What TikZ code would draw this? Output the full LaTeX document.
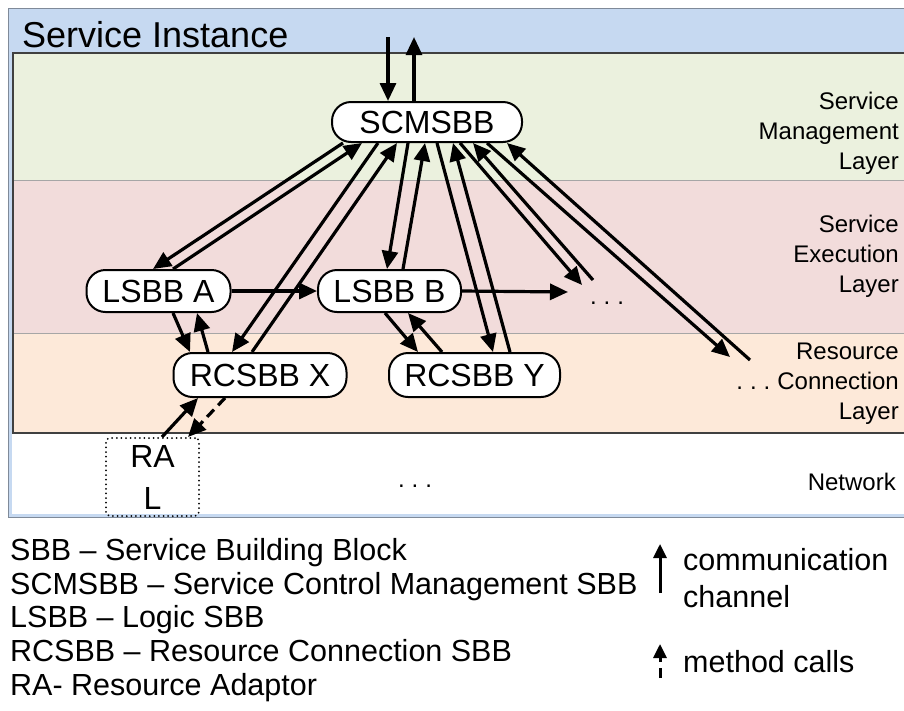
\documentclass[tikz,border=0pt]{standalone}
\usepackage{fontspec}
\setmainfont{Liberation Sans}
\usetikzlibrary{arrows.meta,calc}
\definecolor{bandblue}{HTML}{C6D9F1}
\definecolor{framegray}{HTML}{7F8A99}
\definecolor{smlgreen}{HTML}{EBF1DE}
\definecolor{selpink}{HTML}{F2DCDB}
\definecolor{rclorange}{HTML}{FDE9D9}
\definecolor{sepgray}{HTML}{A6A6A6}
\definecolor{innerframe}{HTML}{404040}
\tikzset{
  pill/.style={draw=black, line width=2pt, fill=white, rounded corners=19pt,
    inner sep=0pt, font=\fontsize{32}{38}\selectfont},
  conn/.style={line width=3.2pt, -{Triangle[length=18pt,width=16pt]}},
  layerlabel/.style={anchor=east, align=right, inner sep=0pt, font=\fontsize{24}{30}\selectfont},
  legendtext/.style={anchor=base west, inner sep=0pt, font=\fontsize{30.5}{34}\selectfont},
  legarrow/.style={line width=3pt, -{Triangle[length=14pt,width=13pt]}},
  dotstext/.style={inner sep=0pt, font=\fontsize{24}{30}\selectfont},
}
\begin{document}
\begin{tikzpicture}[x=1pt,y=-1pt]
\useasboundingbox (0,0) rectangle (904,710);
% frame and layers
\fill[white] (0,0) rectangle (904,710);
\draw[framegray, line width=1pt, fill=bandblue] (8,8) rectangle (910,517);
\fill[white] (12,433) rectangle (910,514);
\fill[smlgreen] (13,53) rectangle (910,180);
\fill[selpink] (13,180) rectangle (910,333);
\fill[rclorange] (13,333) rectangle (910,433);
\draw[sepgray, line width=1pt] (13,180) -- (910,180);
\draw[sepgray, line width=1pt] (13,333) -- (910,333);
\draw[innerframe, line width=1.6pt] (13,53) rectangle (910,433);
\node[anchor=base west, inner sep=0pt, font=\fontsize{36}{40}\selectfont] (title) at (22,47) {Service Instance};

% layer labels
\node[layerlabel] (sml) at (899,133) {Service\\Management\\Layer};
\node[layerlabel] (sel) at (899,256) {Service\\Execution\\Layer};
\node[layerlabel] (rcl) at (899,384) {Resource\\.\hspace{7pt}.\hspace{7pt}.\hspace{7pt}Connection\\Layer};
\node[layerlabel] (net) at (896,482) {Network};
\node[dotstext] (dotsE) at (607,303) {.\hspace{7pt}.\hspace{7pt}.};
\node[dotstext] (dotsN) at (415,486) {.\hspace{7pt}.\hspace{7pt}.};

% nodes
\node[pill, minimum width=190pt, minimum height=40pt] (scm) at (427,122) {SCMSBB};
\node[pill, minimum width=144pt, minimum height=42pt] (la) at (158.5,291) {LSBB A};
\node[pill, minimum width=143pt, minimum height=42pt] (lb) at (389.5,291) {LSBB B};
\node[pill, minimum width=173pt, minimum height=44pt] (rx) at (260,375) {RCSBB X};
\node[pill, minimum width=171pt, minimum height=44pt] (ry) at (474.5,375) {RCSBB Y};
\node[draw=black, line width=2pt, dash pattern=on 0pt off 4.6pt, line cap=round,
  rounded corners=4pt, minimum width=93pt,
  minimum height=78pt, inner sep=0pt, align=center, font=\fontsize{32}{42}\selectfont] (ra) at (152.5,477) {RA\\L};

% free ends
\coordinate (t1) at (388,37);
\coordinate (t2) at (414,37);
\coordinate (e1) at (582,285);
\coordinate (e2) at (593,280);
\coordinate (e3) at (568,292);
\coordinate (r1) at (730,357);
\coordinate (r2) at (750,360);

% top channel
\draw[conn] (t1) -- ([xshift=-39pt]scm.north);
\draw[conn] ([xshift=-13pt]scm.north) -- (t2);

% SCMSBB fan
\draw[conn] ([xshift=-84pt]scm.south) -- ([xshift=-5.5pt]la.north);
\draw[conn] ([xshift=14.5pt]la.north) -- ([xshift=-65pt]scm.south);
\draw[conn] ([xshift=-49pt]scm.south) -- ([xshift=-28pt]rx.north);
\draw[conn] ([xshift=-8pt]rx.north) -- ([xshift=-30pt]scm.south);
\draw[conn] ([xshift=-19pt]scm.south) -- ([xshift=-2.5pt]lb.north);
\draw[conn] ([xshift=13.5pt]lb.north) -- ([xshift=-2pt]scm.south);
\draw[conn] ([xshift=10pt]scm.south) -- ([xshift=18.5pt]ry.north);
\draw[conn] ([xshift=35.5pt]ry.north) -- ([xshift=26pt]scm.south);
\draw[conn] ([xshift=33pt]scm.south) -- (e1);
\draw[conn] (e2) -- ([xshift=46pt]scm.south);
\draw[conn] ([xshift=60pt]scm.south) -- (r1);
\draw[conn] (r2) -- ([xshift=80pt]scm.south);

% LSBB <-> RCSBB
\draw[conn] ([xshift=14.5pt]la.south) -- ([xshift=-70pt]rx.north);
\draw[conn] ([xshift=-52pt]rx.north) -- ([xshift=38.5pt]la.south);
\draw[conn] (la.east) -- (lb.west);
\draw[conn] ([xshift=-4.5pt]lb.south) -- ([xshift=-56.5pt]ry.north);
\draw[conn] ([xshift=-32.5pt]ry.north) -- ([xshift=18.5pt]lb.south);
\draw[conn] (lb.east) -- (e3);

% RA
\draw[conn] ([xshift=9.5pt]ra.north) -- ([xshift=-62pt]rx.south);
\draw[conn, dash pattern=on 10pt off 6pt] ([xshift=-35pt]rx.south) -- ([xshift=35.5pt]ra.north);

% legend
\node[legendtext] (l1) at (10,560) {SBB – Service Building Block};
\node[legendtext] (l2) at (10,594) {SCMSBB – Service Control Management SBB};
\node[legendtext] (l3) at (10,627) {LSBB – Logic SBB};
\node[legendtext] (l4) at (10,661) {RCSBB – Resource Connection SBB};
\node[legendtext] (l5) at (10,695) {RA- Resource Adaptor};
\node[anchor=west, align=left, inner sep=0pt, font=\fontsize{30.5}{37}\selectfont] (lc) at (683,578) {communication\\channel};
\node[anchor=west, inner sep=0pt, font=\fontsize{30.5}{34}\selectfont] (lm) at (683,662) {method calls};
\coordinate (a1) at (660,593);
\coordinate (a2) at (660,544);
\coordinate (b1) at (660,678);
\coordinate (b2) at (660,644);
\draw[legarrow] (a1) -- (a2);
\draw[legarrow, dash pattern=on 10pt off 6pt] (b1) -- (b2);
\end{tikzpicture}
\end{document}
